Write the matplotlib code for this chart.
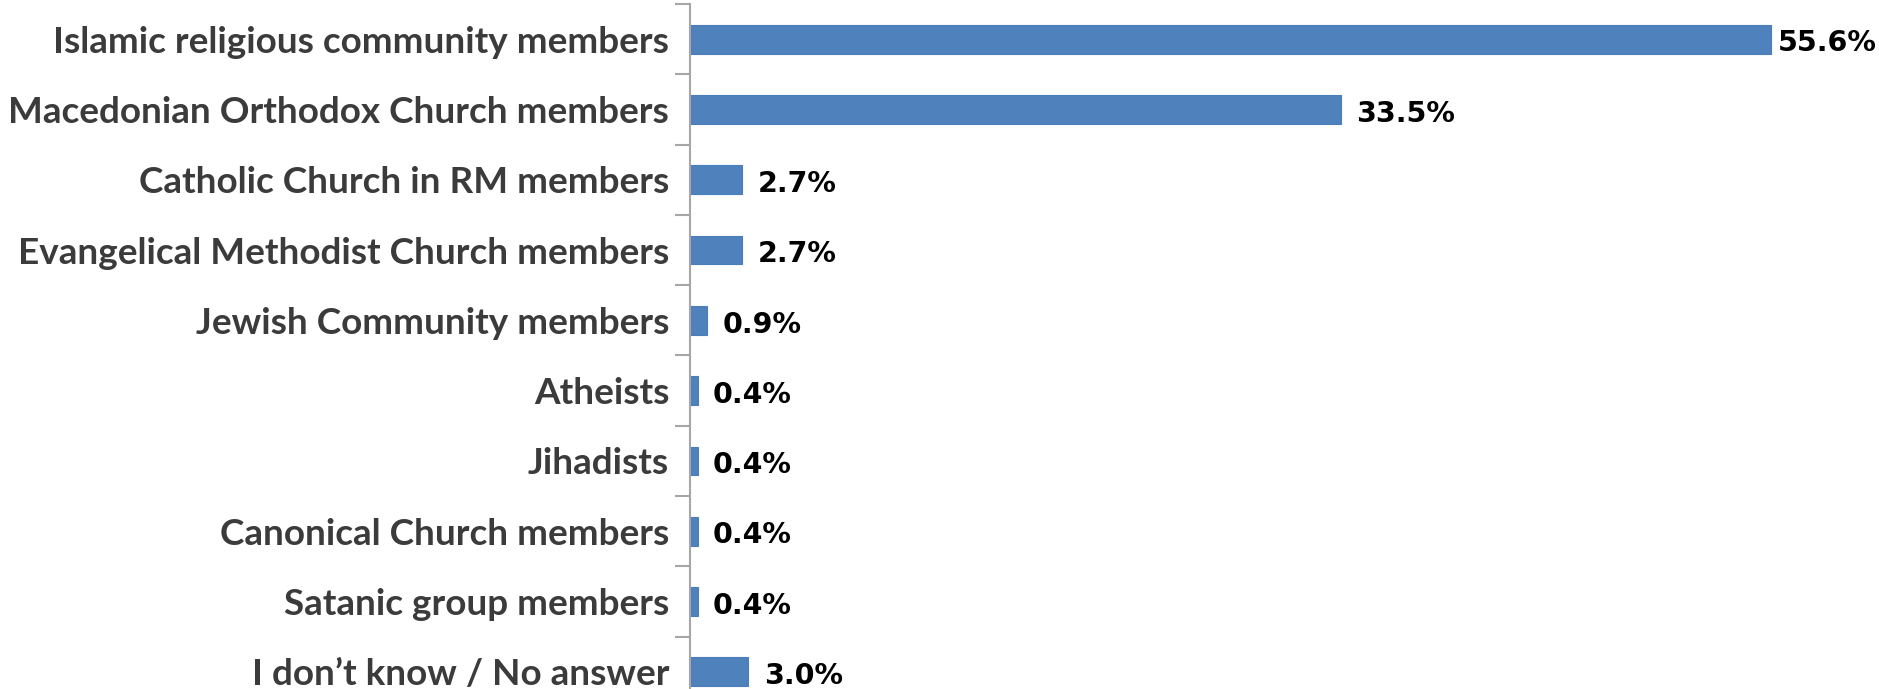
import numpy as np
import matplotlib
matplotlib.use("Agg")
from matplotlib import pyplot as plt

categories = [
    "Islamic religious community members",
    "Macedonian Orthodox Church members",
    "Catholic Church in RM members",
    "Evangelical Methodist Church members",
    "Jewish Community members",
    "Atheists",
    "Jihadists",
    "Canonical Church members",
    "Satanic group members",
    "I don\u2019t know / No answer",
]
values = [55.6, 33.5, 2.7, 2.7, 0.9, 0.4, 0.4, 0.4, 0.4, 3.0]

fig = plt.figure(figsize=(18.79, 6.89), dpi=100)
# axes runs past the bottom edge, like the cropped original
ax = fig.add_axes([0.3672, -0.0261, 0.6208, 1.0203])

y = np.arange(len(categories))
ax.barh(y, values, height=0.41, color="#4F81BD", edgecolor="#4A7EBB", linewidth=0.8)

for yi, v in zip(y, values):
    # the longest bar's label gets pulled in so it stays inside the figure
    dx = 11 if v < 50 else 5
    ax.annotate(f"{v:.1f}%", (v, yi), xytext=(dx, -3), textcoords="offset points",
                va="center", ha="left", fontsize=20.5, fontweight="bold",
                family="DejaVu Sans", color="black")

ax.set_xlim(0, 60)
ax.set_ylim(len(categories) - 0.5, -0.5)

ax.set_yticks(y)
ax.set_yticklabels(categories, family="Lato", fontweight="bold", fontsize=26.6, color="#3b3b3b")
ax.set_yticks(np.arange(-0.5, len(categories) + 0.5, 1), minor=True)
ax.tick_params(axis="y", which="major", length=0, pad=15)
ax.tick_params(axis="y", which="minor", length=11, width=1.5, color="#a6a6a6")

ax.set_xticks([])
for side in ["top", "right", "bottom"]:
    ax.spines[side].set_visible(False)
ax.spines["left"].set_color("#a6a6a6")
ax.spines["left"].set_linewidth(1.5)

fig.savefig("out.png", dpi=100)
